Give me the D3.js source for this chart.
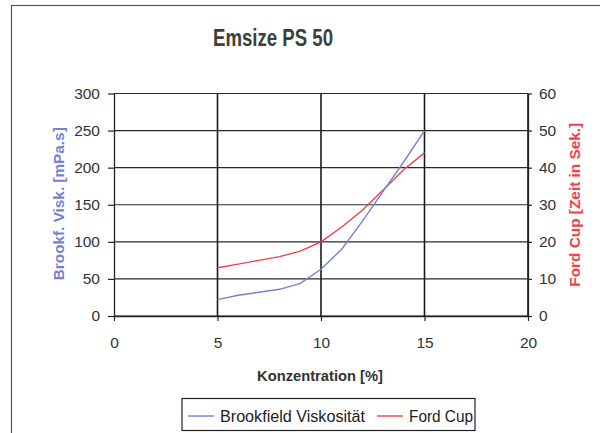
<!DOCTYPE html>
<html>
<head>
<meta charset="utf-8">
<script src="https://cdn.jsdelivr.net/npm/d3@7"></script>
<style>
  body { margin: 0; background: #fff; }
  text { font-family: "Liberation Sans", Arial, sans-serif; }
</style>
</head>
<body>
<div id="chart"></div>
<script>
// Data ---------------------------------------------------------------------------------------------
const konzentration = [5, 6, 7, 8, 9, 10, 11, 12, 13, 14, 15];
const brookfield = [22, 28, 32, 36, 44, 63, 90, 128, 168, 208, 250];
const fordCup = [13, 14, 15, 16, 17.5, 20, 24, 28.5, 34, 39.5, 44];
const xTicks = [0, 5, 10, 15, 20];
const leftTicks = [0, 50, 100, 150, 200, 250, 300];
const rightTicks = [0, 10, 20, 30, 40, 50, 60];

// Dimensions ---------------------------------------------------------------------------------------
const width = 600, height = 433;
const plot = {left: 114, right: 528, top: 93.5, bottom: 316};
const blueColor = "#7482d2", redColor = "#f0404c";

const svg = d3.select("#chart").append("svg")
  .attr("width", width)
  .attr("height", height);

// Outer frame
svg.append("rect")
  .attr("x", 11.5).attr("y", 5.5)
  .attr("width", 620).attr("height", 460)
  .attr("fill", "none").attr("stroke", "#555").attr("stroke-width", 1.2);

// Title (narrow bold face squeezed to the original width)
svg.append("text")
  .attr("x", 273).attr("y", 46)
  .attr("text-anchor", "middle")
  .attr("textLength", 120).attr("lengthAdjust", "spacingAndGlyphs")
  .style("font-weight", "bold").style("font-size", "23px")
  .attr("fill", "#3a3f3a")
  .text("Emsize PS 50");

// Scales -------------------------------------------------------------------------------------------
const x = d3.scaleLinear().domain([0, 20]).range([plot.left, plot.right]);
const yLeft = d3.scaleLinear().domain([0, 300]).range([plot.bottom, plot.top]);
const yRight = d3.scaleLinear().domain([0, 60]).range([plot.bottom, plot.top]);

// Grid
const grid = svg.append("g");
grid.selectAll(".hgrid").data(leftTicks).join("line")
  .attr("x1", plot.left).attr("x2", plot.right)
  .attr("y1", d => yLeft(d)).attr("y2", d => yLeft(d))
  .attr("stroke", "#2a2a2a").attr("stroke-width", 1.2);
grid.selectAll(".vgrid").data(xTicks.filter(d => d > 0)).join("line")
  .attr("x1", d => x(d)).attr("x2", d => x(d))
  .attr("y1", plot.top).attr("y2", plot.bottom)
  .attr("stroke", "#1a1a1a").attr("stroke-width", 1.6);

// Axes ---------------------------------------------------------------------------------------------
const axisStyle = g => {
  g.select(".domain").attr("stroke", "#222").attr("stroke-width", 1.3);
  g.selectAll(".tick line").attr("stroke", "#222").attr("stroke-width", 1.2);
  g.selectAll(".tick text").attr("fill", "#333").style("font-size", "15.5px");
};

svg.append("g")
  .attr("transform", `translate(${plot.left},0)`)
  .call(d3.axisLeft(yLeft).tickValues(leftTicks).tickSizeInner(6).tickSizeOuter(0).tickPadding(8))
  .call(axisStyle);

svg.append("g")
  .attr("transform", `translate(${plot.right},0)`)
  .call(d3.axisRight(yRight).tickValues(rightTicks).tickSizeInner(4).tickSizeOuter(0).tickPadding(7))
  .call(axisStyle);

svg.append("g")
  .attr("transform", `translate(0,${plot.bottom})`)
  .call(d3.axisBottom(x).tickValues(xTicks).tickSizeInner(5).tickSizeOuter(0).tickPadding(16))
  .call(axisStyle);

// Axis titles
svg.append("text")
  .attr("transform", `translate(64,${(plot.top + plot.bottom) / 2 - 1}) rotate(-90)`)
  .attr("text-anchor", "middle")
  .attr("textLength", 153).attr("lengthAdjust", "spacingAndGlyphs")
  .style("font-weight", "bold").style("font-size", "14px")
  .attr("fill", blueColor)
  .text("Brookf. Visk. [mPa.s]");

svg.append("text")
  .attr("transform", `translate(580,${(plot.top + plot.bottom) / 2}) rotate(-90)`)
  .attr("text-anchor", "middle")
  .attr("textLength", 164).attr("lengthAdjust", "spacingAndGlyphs")
  .style("font-weight", "bold").style("font-size", "14px")
  .attr("fill", redColor)
  .text("Ford Cup [Zeit in Sek.]");

svg.append("text")
  .attr("x", 320).attr("y", 381)
  .attr("text-anchor", "middle")
  .attr("textLength", 126).attr("lengthAdjust", "spacingAndGlyphs")
  .style("font-weight", "bold").style("font-size", "14px")
  .attr("fill", "#333")
  .text("Konzentration [%]");

// Lines --------------------------------------------------------------------------------------------
const blueLine = d3.line().x((d, i) => x(konzentration[i])).y(d => yLeft(d));
const redLine = d3.line().x((d, i) => x(konzentration[i])).y(d => yRight(d));

svg.append("path").datum(fordCup)
  .attr("d", redLine).attr("fill", "none")
  .attr("stroke", redColor).attr("stroke-width", 1.4);

svg.append("path").datum(brookfield)
  .attr("d", blueLine).attr("fill", "none")
  .attr("stroke", blueColor).attr("stroke-width", 1.4);

// Legend -------------------------------------------------------------------------------------------
const legend = svg.append("g");
legend.append("rect")
  .attr("x", 182).attr("y", 398.5).attr("width", 293).attr("height", 32)
  .attr("fill", "#fff").attr("stroke", "#222").attr("stroke-width", 1.2);

const legendItems = [
  {label: "Brookfield Viskosität", color: blueColor, x: 188, len: 145},
  {label: "Ford Cup", color: redColor, x: 377, len: 64}
];
legendItems.forEach(item => {
  legend.append("line")
    .attr("x1", item.x).attr("x2", item.x + 26)
    .attr("y1", 416).attr("y2", 416)
    .attr("stroke", item.color).attr("stroke-width", 1.4);
  legend.append("text")
    .attr("x", item.x + 32).attr("y", 422)
    .attr("textLength", item.len).attr("lengthAdjust", "spacingAndGlyphs")
    .style("font-size", "16px").attr("fill", "#222")
    .text(item.label);
});
</script>
</body>
</html>
